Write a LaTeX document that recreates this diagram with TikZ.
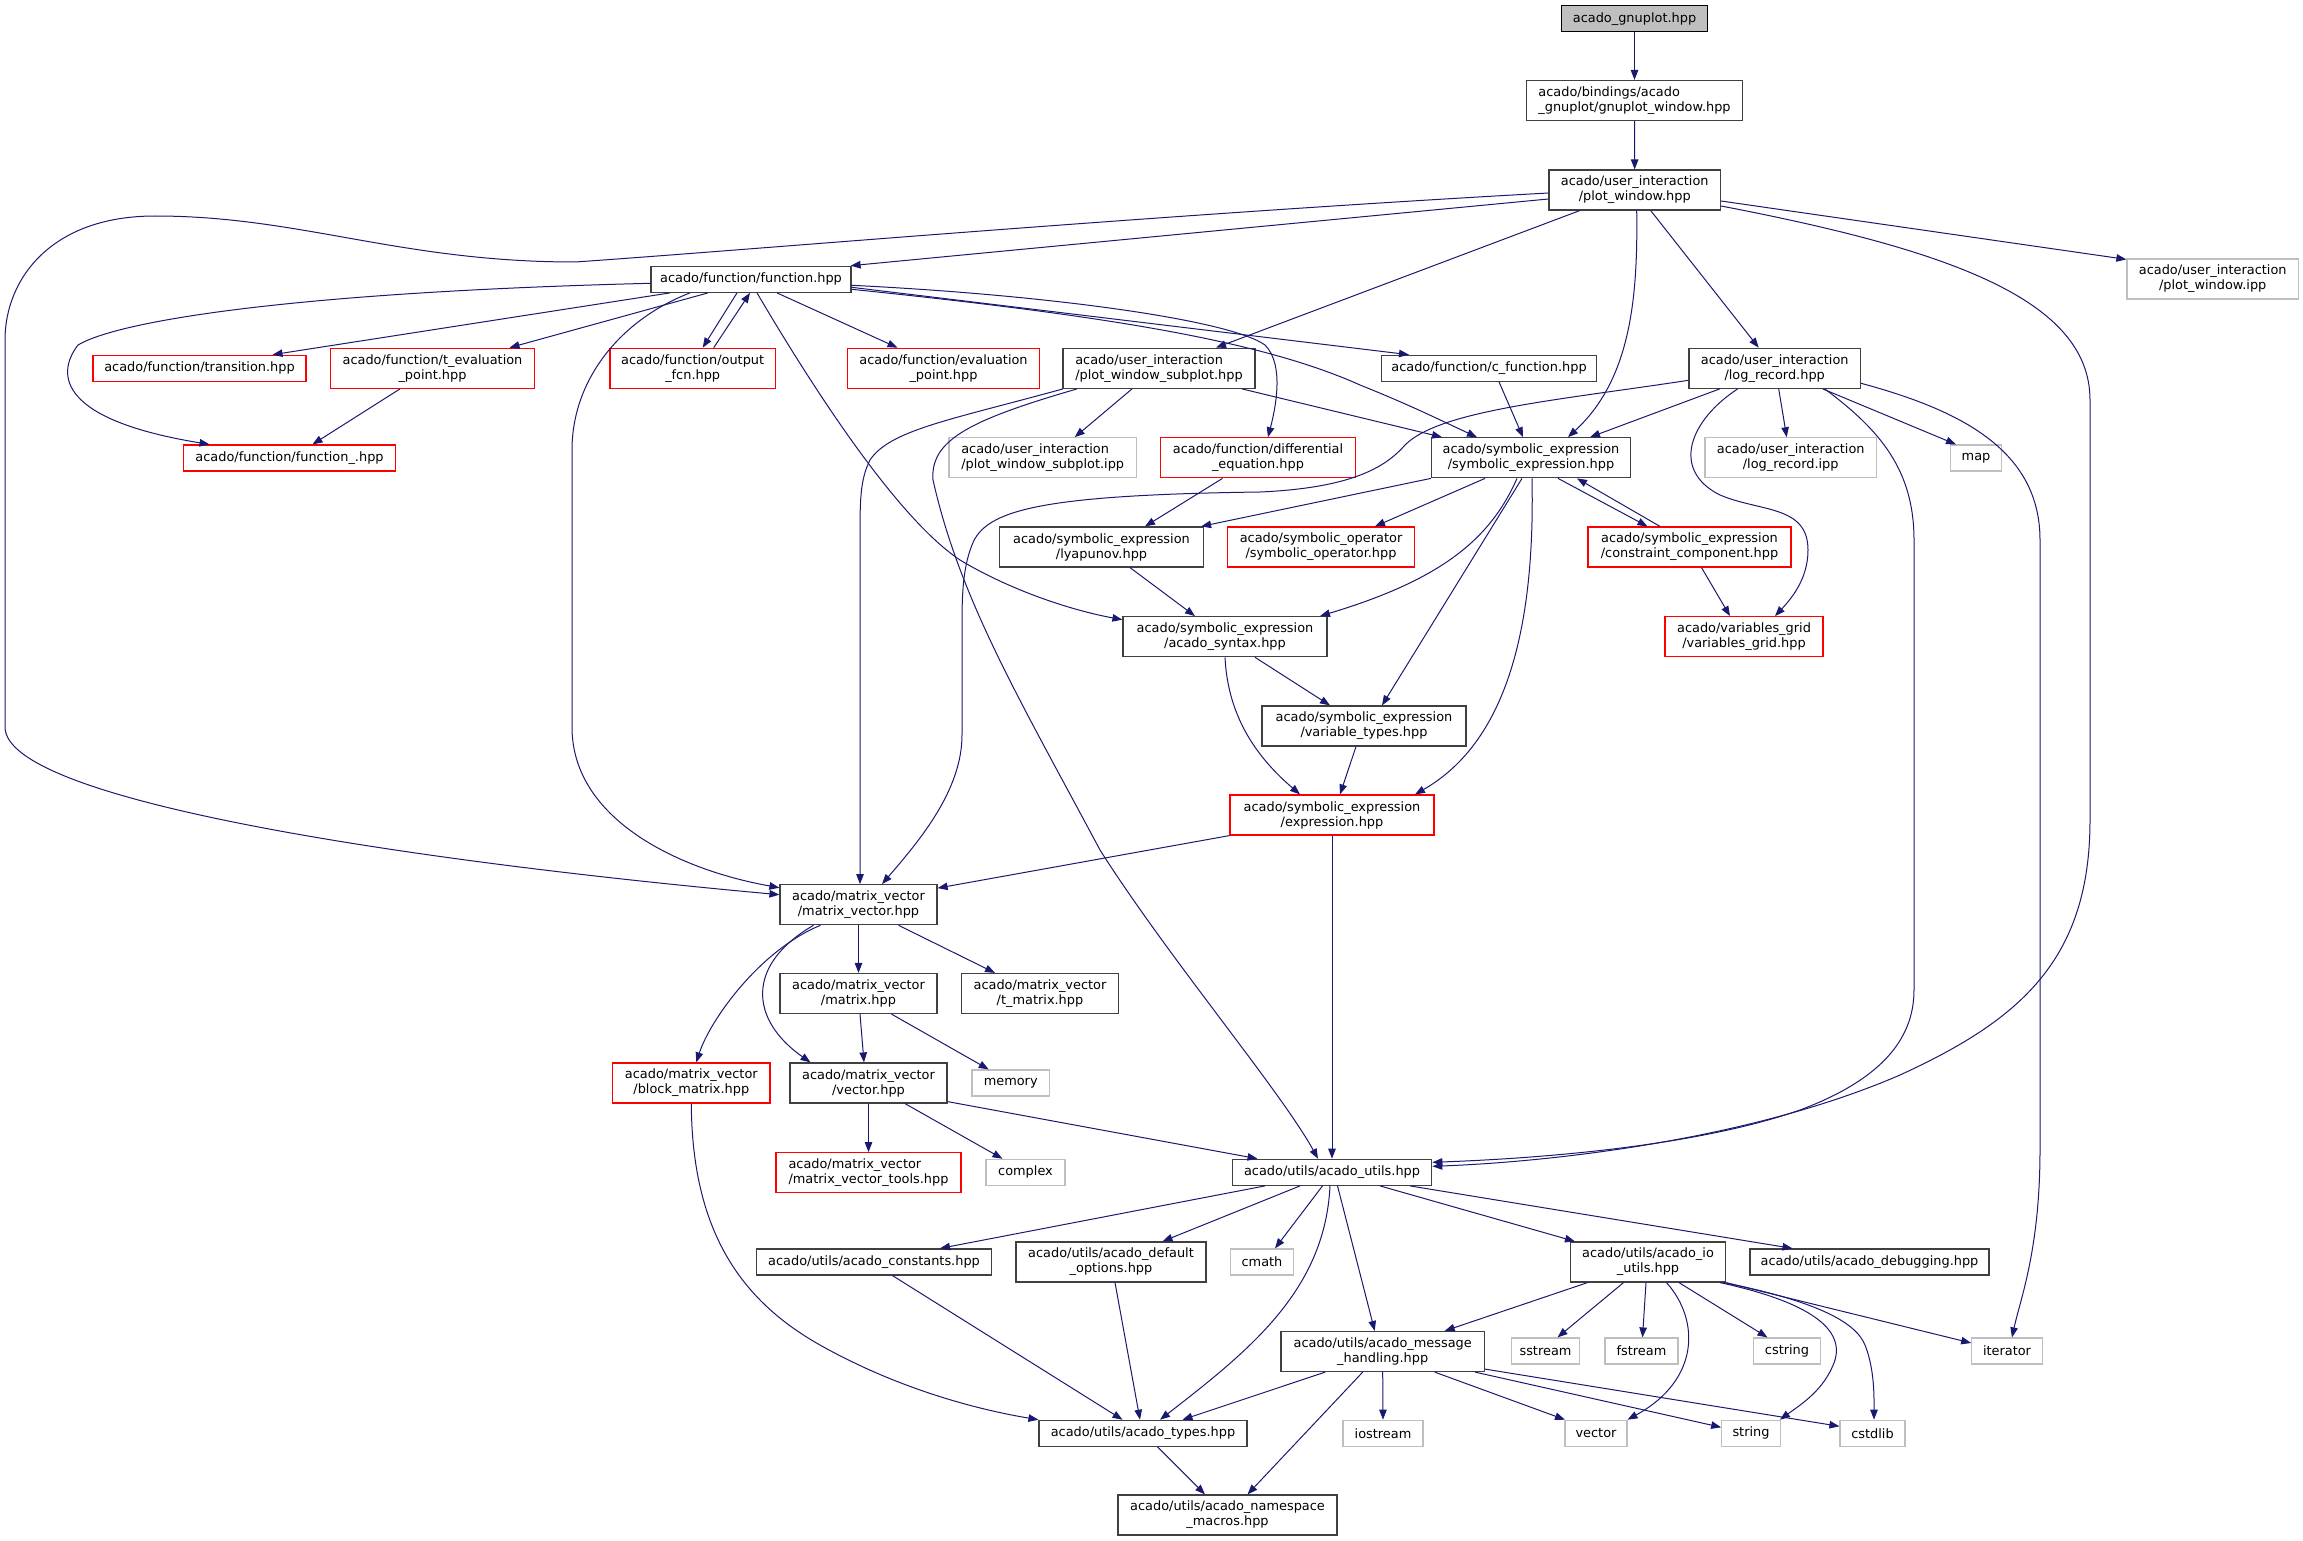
\documentclass[tikz,border=0pt]{standalone}
\usepackage{fontspec}
\setmainfont{DejaVu Sans}
\usetikzlibrary{arrows.meta}
\definecolor{edgeblue}{HTML}{191970}
\definecolor{boxgray}{HTML}{404040}
\definecolor{extgray}{HTML}{BFBFBF}

\begin{document}
\begin{tikzpicture}[x=1pt,y=-1pt,>={Triangle[length=10pt,width=7.5pt]},
  hdr/.style={draw=boxgray,line width=1.2pt,fill=white,inner xsep=2pt,inner ysep=2pt,
    minimum height=26pt,align=center,font=\fontsize{12.9}{15}\selectfont},
  tall/.style={minimum height=40pt},
  hdrred/.style={hdr,draw=red},
  sys/.style={hdr,draw=extgray},
  root/.style={hdr,draw=black,fill=extgray},
  dep/.style={->,color=edgeblue,line width=1pt}]
\useasboundingbox (0,0) rectangle (2303,1541);
%
\node[root,minimum width=146pt] (gnuplot) at (1634.5,18.7) {acado\_gnuplot.hpp};
\node[hdr,tall,align=left,minimum width=216pt] (gpwin) at (1634.5,100.5) {acado/bindings/acado\\\_gnuplot/gnuplot\_window.hpp};
\node[hdr,tall,minimum width=171.5pt] (plotwin) at (1634.7,190) {acado/user\_interaction\\/plot\_window.hpp};
\node[sys,tall,minimum width=171.5pt] (plotipp) at (2212.7,279) {acado/user\_interaction\\/plot\_window.ipp};
\node[hdr,minimum width=200pt] (func) at (751,279.3) {acado/function/function.hpp};
\node[hdrred,minimum width=213pt] (transit) at (199.5,368.3) {acado/function/transition.hpp};
\node[hdrred,tall,minimum width=204pt] (teval) at (432.5,368.3) {acado/function/t\_evaluation\\\_point.hpp};
\node[hdrred,tall,minimum width=165.5pt] (outfcn) at (692.7,368.3) {acado/function/output\\\_fcn.hpp};
\node[hdrred,tall,minimum width=192pt] (evalpt) at (943.5,368.3) {acado/function/evaluation\\\_point.hpp};
\node[hdr,tall,align=left,minimum width=192pt] (subplot) at (1159,368.3) {acado/user\_interaction\\/plot\_window\_subplot.hpp};
\node[hdr,minimum width=214.5pt] (cfunc) at (1489,368.3) {acado/function/c\_function.hpp};
\node[hdr,tall,minimum width=171.5pt] (logrec) at (1774.7,368.3) {acado/user\_interaction\\/log\_record.hpp};
\node[hdrred,minimum width=212pt] (funcu) at (289.5,458) {acado/function/function\_.hpp};
\node[sys,tall,align=left,minimum width=187.5pt] (subipp) at (1042.7,457.8) {acado/user\_interaction\\/plot\_window\_subplot.ipp};
\node[hdrred,tall,minimum width=194.5pt] (diffeq) at (1258,457.8) {acado/function/differential\\\_equation.hpp};
\node[hdr,tall,minimum width=199pt] (symexpr) at (1531,457.8) {acado/symbolic\_expression\\/symbolic\_expression.hpp};
\node[sys,tall,minimum width=171.5pt] (logipp) at (1790.7,457.8) {acado/user\_interaction\\/log\_record.ipp};
\node[sys,minimum width=50.5pt] (map) at (1976,458) {map};
\node[hdr,tall,minimum width=204pt] (lyap) at (1101.5,547) {acado/symbolic\_expression\\/lyapunov.hpp};
\node[hdrred,tall,minimum width=187.5pt] (symop) at (1321,547) {acado/symbolic\_operator\\/symbolic\_operator.hpp};
\node[hdrred,tall,minimum width=203pt] (constr) at (1689.5,547) {acado/symbolic\_expression\\/constraint\_component.hpp};
\node[hdr,tall,minimum width=204pt] (syntax) at (1225,636.7) {acado/symbolic\_expression\\/acado\_syntax.hpp};
\node[hdrred,tall,minimum width=158pt] (vargrid) at (1744,636.7) {acado/variables\_grid\\/variables\_grid.hpp};
\node[hdr,tall,minimum width=204pt] (vartypes) at (1364,726) {acado/symbolic\_expression\\/variable\_types.hpp};
\node[hdrred,tall,minimum width=204pt] (expr) at (1332,815) {acado/symbolic\_expression\\/expression.hpp};
\node[hdr,tall,minimum width=157pt] (mv) at (858.5,904.7) {acado/matrix\_vector\\/matrix\_vector.hpp};
\node[hdr,tall,minimum width=157pt] (matrix) at (858.5,993.5) {acado/matrix\_vector\\/matrix.hpp};
\node[hdr,tall,minimum width=157pt] (tmatrix) at (1040,993.5) {acado/matrix\_vector\\/t\_matrix.hpp};
\node[hdrred,tall,minimum width=157.5pt] (blockm) at (691.3,1083) {acado/matrix\_vector\\/block\_matrix.hpp};
\node[hdr,tall,minimum width=157pt] (vector) at (868.5,1083) {acado/matrix\_vector\\/vector.hpp};
\node[sys,minimum width=77.5pt] (memory) at (1010.7,1083) {memory};
\node[hdrred,tall,align=left,minimum width=185pt] (mvtools) at (868.5,1172.7) {acado/matrix\_vector\\/matrix\_vector\_tools.hpp};
\node[sys,minimum width=79pt] (complex) at (1025.5,1172.3) {complex};
\node[hdr,minimum width=199.5pt] (utils) at (1332,1172.3) {acado/utils/acado\_utils.hpp};
\node[hdr,minimum width=234.5pt] (consts) at (874,1262) {acado/utils/acado\_constants.hpp};
\node[hdr,tall,minimum width=190pt] (defopt) at (1111,1262) {acado/utils/acado\_default\\\_options.hpp};
\node[sys,minimum width=62.5pt] (cmath) at (1262,1262) {cmath};
\node[hdr,tall,minimum width=154.5pt] (ioutils) at (1648,1262) {acado/utils/acado\_io\\\_utils.hpp};
\node[hdr,minimum width=239pt] (debug) at (1869.5,1262) {acado/utils/acado\_debugging.hpp};
\node[hdr,tall,minimum width=203.5pt] (msg) at (1382.7,1351.5) {acado/utils/acado\_message\\\_handling.hpp};
\node[sys,minimum width=67.5pt] (sstream) at (1545.5,1351) {sstream};
\node[sys,minimum width=73pt] (fstream) at (1641.5,1351) {fstream};
\node[sys,minimum width=66.5pt] (cstring) at (1787,1351) {cstring};
\node[sys,minimum width=70.5pt] (iterator) at (2007,1351) {iterator};
\node[hdr,minimum width=208pt] (types) at (1143,1433.3) {acado/utils/acado\_types.hpp};
\node[sys,minimum width=80pt] (iostream) at (1383,1433.3) {iostream};
\node[sys,minimum width=62pt] (vectorstd) at (1596,1433.3) {vector};
\node[sys,minimum width=58.5pt] (string) at (1751,1433.3) {string};
\node[sys,minimum width=65pt] (cstdlib) at (1872.5,1433.3) {cstdlib};
\node[hdr,tall,minimum width=219pt] (nsmacros) at (1227.5,1515) {acado/utils/acado\_namespace\\\_macros.hpp};
%
% top chain and plot_window
\draw[dep] (gnuplot) -- (gpwin);
\draw[dep] (gpwin) -- (plotwin);
\draw[dep] ([yshift=-9pt]plotwin.west) -- ([xshift=-1pt]func.north east);
\draw[dep] ([yshift=-3pt]plotwin.west) .. controls (1150,215) and (750,250) .. (575,262) .. controls (400,262) and (300,216) .. (155,216) .. controls (50,216) and (5,280) .. (5,340) -- (5,727) .. controls (5,800) and (400,860) .. ([yshift=10pt]mv.west);
\draw[dep] ([xshift=-55pt]plotwin.south) -- ([xshift=57pt]subplot.north);
\draw[dep] ([xshift=2pt]plotwin.south) .. controls (1638,300) and (1630,380) .. ([xshift=37pt]symexpr.north);
\draw[dep] ([xshift=16pt]plotwin.south) -- ([xshift=-16pt]logrec.north);
\draw[dep] ([yshift=-16pt]plotwin.east) .. controls (1950,250) and (2090,300) .. (2090,400) -- (2090,820) .. controls (2090,960) and (2020,1020) .. (1900,1075) .. controls (1750,1140) and (1550,1162) .. ([yshift=6pt]utils.east);
\draw[dep] ([yshift=-11pt]plotwin.east) -- ([yshift=-1pt]plotipp.north west);
% function.hpp
\draw[dep] ([xshift=-81pt]func.south) -- ([xshift=73pt]transit.north);
\draw[dep] ([xshift=-43pt]func.south) -- ([xshift=77pt]teval.north);
\draw[dep] ([xshift=-14pt]func.south) -- ([xshift=10pt]outfcn.north);
\draw[dep] ([xshift=21pt]outfcn.north) -- ([xshift=-1pt]func.south);
\draw[dep] ([xshift=26pt]func.south) -- ([xshift=-46pt]evalpt.north);
\draw[dep] ([yshift=-4pt]func.west) .. controls (300,292) and (120,320) .. (78,345) .. controls (55,375) and (60,420) .. ([xshift=-80pt]funcu.north);
\draw[dep] ([xshift=-61pt]func.south) .. controls (620,320) and (572,380) .. (572,450) -- (572,727) .. controls (572,820) and (680,870) .. ([yshift=17pt]mv.west);
\draw[dep] ([xshift=6pt]func.south) .. controls (820,400) and (900,520) .. (960,560) .. controls (1010,590) and (1070,610) .. ([yshift=17pt]syntax.west);
\draw[dep] ([yshift=-8pt]func.east) -- ([xshift=-80pt]cfunc.north);
\draw[dep] ([yshift=-10pt]func.east) .. controls (1100,315) and (1260,340) .. (1360,385) .. controls (1410,405) and (1440,420) .. ([xshift=-54pt]symexpr.north);
\draw[dep] ([yshift=-6pt]func.east) .. controls (1050,295) and (1230,320) .. (1265,345) .. controls (1285,365) and (1275,410) .. ([xshift=10pt]diffeq.north);
% plot_window_subplot.hpp
\draw[dep] ([xshift=-96pt]subplot.south) .. controls (950,420) and (890,430) .. (870,460) .. controls (860,480) and (860,500) .. (860,540) -- ([xshift=1.5pt]mv.north);
\draw[dep] ([xshift=-82pt]subplot.south) .. controls (970,420) and (930,440) .. (933,480) .. controls (960,600) and (1020,700) .. (1100,850) .. controls (1170,960) and (1280,1090) .. ([xshift=-14pt]utils.north);
\draw[dep] ([xshift=-27pt]subplot.south) -- ([xshift=32pt]subipp.north);
\draw[dep] ([xshift=83pt]subplot.south) -- ([xshift=-89pt]symexpr.north);
\draw[dep] ([xshift=10pt]cfunc.south) -- ([xshift=-8pt]symexpr.north);
% log_record.hpp
\draw[dep] ([xshift=-55pt]logrec.south) -- ([xshift=59pt]symexpr.north);
\draw[dep] ([yshift=-12pt]logrec.west) .. controls (1560,400) and (1440,410) .. (1405,445) .. controls (1385,468) and (1350,488) .. (1260,492) .. controls (1040,495) and (985,510) .. (972,545) .. controls (962,570) and (962,600) .. (962,630) -- (962,735) .. controls (962,790) and (920,840) .. ([xshift=23.5pt]mv.north);
\draw[dep] ([xshift=-37pt]logrec.south) .. controls (1690,420) and (1670,470) .. (1720,495) .. controls (1760,512) and (1808,505) .. (1808,550) .. controls (1808,580) and (1790,600) .. ([xshift=31pt]vargrid.north);
\draw[dep] ([xshift=4pt]logrec.south) -- ([xshift=-4pt]logipp.north);
\draw[dep] ([xshift=48pt]logrec.south) -- ([xshift=-20pt]map.north);
\draw[dep] ([xshift=50pt]logrec.south) .. controls (1880,430) and (1914,470) .. (1914,540) -- (1914,990) .. controls (1914,1040) and (1880,1080) .. (1800,1110) .. controls (1700,1145) and (1550,1158) .. ([yshift=10pt]utils.east);
\draw[dep] ([yshift=-15pt]logrec.east) .. controls (1960,410) and (2040,450) .. (2040,540) -- (2040,1150) .. controls (2040,1250) and (2020,1300) .. ([xshift=5pt]iterator.north);
% symbolic_expression.hpp
\draw[dep] (symexpr.south west) -- ([xshift=-3pt]lyap.north east);
\draw[dep] ([xshift=-46pt]symexpr.south) -- ([xshift=54pt]symop.north);
\draw[dep] ([xshift=-14pt]symexpr.south) .. controls (1490,540) and (1440,580) .. ([xshift=95pt]syntax.north);
\draw[dep] ([xshift=-9pt]symexpr.south) -- ([xshift=18pt]vartypes.north);
\draw[dep] ([xshift=1pt]symexpr.south) .. controls (1535,620) and (1510,740) .. ([xshift=83pt]expr.north);
\draw[dep] ([xshift=27pt]symexpr.south) -- ([xshift=-42pt]constr.north);
\draw[dep] ([xshift=-29.5pt]constr.north) -- ([xshift=46pt]symexpr.south);
\draw[dep] ([xshift=12pt]constr.south) -- ([xshift=-14pt]vargrid.north);
\draw[dep] ([xshift=-35.5pt]diffeq.south) -- ([xshift=43.5pt]lyap.north);
\draw[dep] ([xshift=28.5pt]lyap.south) -- ([xshift=-30pt]syntax.north);
\draw[dep] ([xshift=30pt]syntax.south) -- ([xshift=-34pt]vartypes.north);
\draw[dep] (syntax.south) .. controls (1228,720) and (1260,760) .. ([xshift=-32pt]expr.north);
\draw[dep] ([xshift=-8pt]vartypes.south) -- ([xshift=8pt]expr.north);
\draw[dep] (expr.south west) -- ([yshift=-4pt]mv.north east);
\draw[dep] (expr.south) -- (utils.north);
\draw[dep] ([xshift=-32.5pt]teval.south) -- ([xshift=23pt]funcu.north);
% matrix_vector
\draw[dep] (mv.south) -- (matrix.north);
\draw[dep] ([xshift=40pt]mv.south) -- ([xshift=-45pt]tmatrix.north);
\draw[dep] ([xshift=-38pt]mv.south) .. controls (760,950) and (710,1020) .. ([xshift=5pt]blockm.north);
\draw[dep] ([xshift=-45pt]mv.south) .. controls (745,965) and (750,1020) .. ([xshift=-58pt]vector.north);
\draw[dep] ([xshift=1.5pt]matrix.south) -- ([xshift=-4.5pt]vector.north);
\draw[dep] ([xshift=33pt]matrix.south) -- ([xshift=-22pt]memory.north);
\draw[dep] (vector.south) -- (mvtools.north);
\draw[dep] ([xshift=36.5pt]vector.south) -- ([xshift=-23pt]complex.north);
\draw[dep] ([yshift=2pt]vector.south east) -- ([xshift=-74.5pt]utils.north);
\draw[dep] (blockm.south) .. controls (692,1230) and (740,1300) .. (820,1345) .. controls (900,1390) and (980,1410) .. (types.north west);
% acado_utils.hpp
\draw[dep] ([xshift=-67pt]utils.south) -- ([xshift=66pt]consts.north);
\draw[dep] ([xshift=-32pt]utils.south) -- ([xshift=51.5pt]defopt.north);
\draw[dep] ([xshift=-9.5pt]utils.south) -- ([xshift=13pt]cmath.north);
\draw[dep] ([xshift=-2pt]utils.south) .. controls (1325,1290) and (1250,1350) .. ([xshift=17pt]types.north);
\draw[dep] ([xshift=5.5pt]utils.south) -- ([xshift=-8pt]msg.north);
\draw[dep] ([xshift=48pt]utils.south) -- ([xshift=-73pt]ioutils.north);
\draw[dep] ([xshift=78pt]utils.south) -- ([xshift=-77pt]debug.north);
\draw[dep] ([xshift=18.5pt]consts.south) -- ([xshift=-20.5pt]types.north);
\draw[dep] ([xshift=4pt]defopt.south) -- ([xshift=-3pt]types.north);
\draw[dep] ([xshift=-57.5pt]msg.south) -- ([xshift=39.5pt]types.north);
\draw[dep] ([xshift=-20pt]msg.south) -- ([xshift=20pt]nsmacros.north);
\draw[dep] (msg.south) -- (iostream.north);
\draw[dep] ([xshift=52pt]msg.south) -- ([xshift=-31pt]vectorstd.north);
\draw[dep] ([xshift=-10pt]msg.south east) -- ([yshift=6pt]string.west);
\draw[dep] ([yshift=3pt]msg.south east) -- ([yshift=7pt]cstdlib.west);
\draw[dep] ([xshift=14.5pt]types.south) -- ([xshift=-22.5pt]nsmacros.north);
% acado_io_utils.hpp
\draw[dep] ([xshift=-60.5pt]ioutils.south) -- ([xshift=62pt]msg.north);
\draw[dep] ([xshift=-24.5pt]ioutils.south) -- ([xshift=12pt]sstream.north);
\draw[dep] ([xshift=-2pt]ioutils.south) -- ([xshift=1pt]fstream.north);
\draw[dep] ([xshift=18.5pt]ioutils.south) .. controls (1700,1320) and (1700,1380) .. ([xshift=31.5pt]vectorstd.north);
\draw[dep] ([xshift=31pt]ioutils.south) -- ([xshift=-19.5pt]cstring.north);
\draw[dep] ([xshift=72pt]ioutils.south) .. controls (1800,1300) and (1845,1325) .. (1835,1360) .. controls (1825,1390) and (1800,1405) .. ([xshift=29pt]string.north);
\draw[dep] ([xshift=76pt]ioutils.south) .. controls (1810,1300) and (1855,1320) .. (1865,1345) .. controls (1875,1370) and (1874,1400) .. ([xshift=1.5pt]cstdlib.north);
\draw[dep] (ioutils.south east) -- ([yshift=8pt]iterator.west);
\end{tikzpicture}
\end{document}
